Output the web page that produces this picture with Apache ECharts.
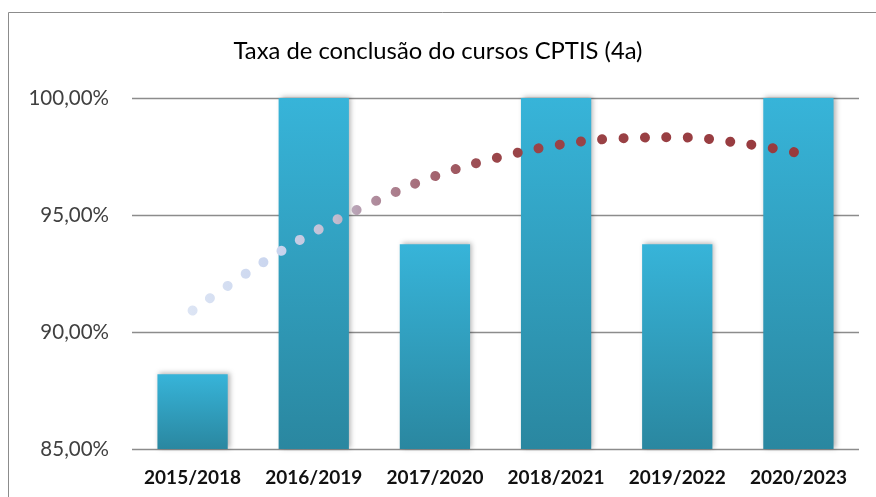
<!DOCTYPE html>
<html>
<head>
<meta charset="utf-8">
<script src="https://cdn.jsdelivr.net/npm/echarts@6/dist/echarts.min.js"></script>
<style>
  html, body { margin: 0; padding: 0; background: #fff; }
  #chart { width: 876px; height: 497px; }
</style>
</head>
<body>
<div id="chart"></div>
<script>
var categories = ["2015/2018", "2016/2019", "2017/2020", "2018/2021", "2019/2022", "2020/2023"];
var rates = [88.19, 100, 93.75, 100, 93.75, 100];
// trend line, at every half category
var trendX = [1, 1.5, 2, 2.5, 3, 3.5, 4, 4.5, 5, 5.5, 6];
var trendY = [90.92, 92.7, 94.27, 95.57, 96.66, 97.43, 97.98, 98.27, 98.32, 98.09, 97.65];

var chart = echarts.init(document.getElementById("chart"));

var trendData = trendX.map(function (x, i) {
  return [x, trendY[i]];
});

chart.setOption({
  animation: false,
  title: {
    text: "Taxa de conclusão do cursos CPTIS (4a)",
    left: "center",
    top: 34,
    textStyle: {
      fontFamily: "Lato",
      fontSize: 23.8,
      fontWeight: "normal",
      color: "#000"
    }
  },
  graphic: [
    {
      type: "rect",
      shape: { x: 8.5, y: 12.5, width: 1000, height: 1000 },
      style: { fill: "none", stroke: "#8c8c8c", lineWidth: 1 },
      silent: true
    }
  ],
  grid: {
    left: 132,
    right: 17,
    top: 98,
    bottom: 48
  },
  xAxis: [
    {
      type: "category",
      data: categories,
      axisTick: { show: false },
      axisLine: { show: false },
      axisLabel: {
        interval: 0,
        margin: 19,
        fontFamily: "Lato",
        fontSize: 19,
        fontWeight: "bold",
        color: "#111"
      }
    },
    {
      type: "value",
      min: 0.5,
      max: 6.5,
      show: false
    }
  ],
  yAxis: {
    type: "value",
    min: 85,
    max: 100,
    interval: 5,
    axisLine: { show: false },
    axisTick: { show: false },
    splitLine: { lineStyle: { color: "#8c8c8c", width: 1.3 } },
    axisLabel: {
      margin: 23,
      fontFamily: "Lato",
      fontSize: 20.5,
      color: "#404040",
      formatter: function (v) {
        return v.toFixed(2).replace(".", ",") + "%";
      }
    }
  },
  series: [
    {
      name: "Taxa",
      type: "bar",
      data: rates,
      barWidth: "58%",
      itemStyle: {
        color: new echarts.graphic.LinearGradient(0, 0, 0, 1, [
          { offset: 0, color: "#37b4d9" },
          { offset: 1, color: "#2a87a0" }
        ]),
        shadowBlur: 5,
        shadowOffsetX: 2,
        shadowOffsetY: -1,
        shadowColor: "rgba(0,0,0,0.3)"
      }
    },
    {
      name: "Tendência",
      type: "line",
      xAxisIndex: 1,
      data: trendData,
      smooth: 0.4,
      symbol: "none",
      z: 5,
      lineStyle: {
        width: 10,
        cap: "round",
        type: [0.01, 21.4],
        color: new echarts.graphic.LinearGradient(0, 0, 1, 0, [
          { offset: 0, color: "#dde5f4" },
          { offset: 0.15, color: "#c8d4ee" },
          { offset: 0.24, color: "#c2bccf" },
          { offset: 0.3, color: "#b08e9f" },
          { offset: 0.4, color: "#a3646f" },
          { offset: 0.5, color: "#9a4549" },
          { offset: 1, color: "#983a3e" }
        ])
      }
    }
  ]
});
</script>
</body>
</html>
